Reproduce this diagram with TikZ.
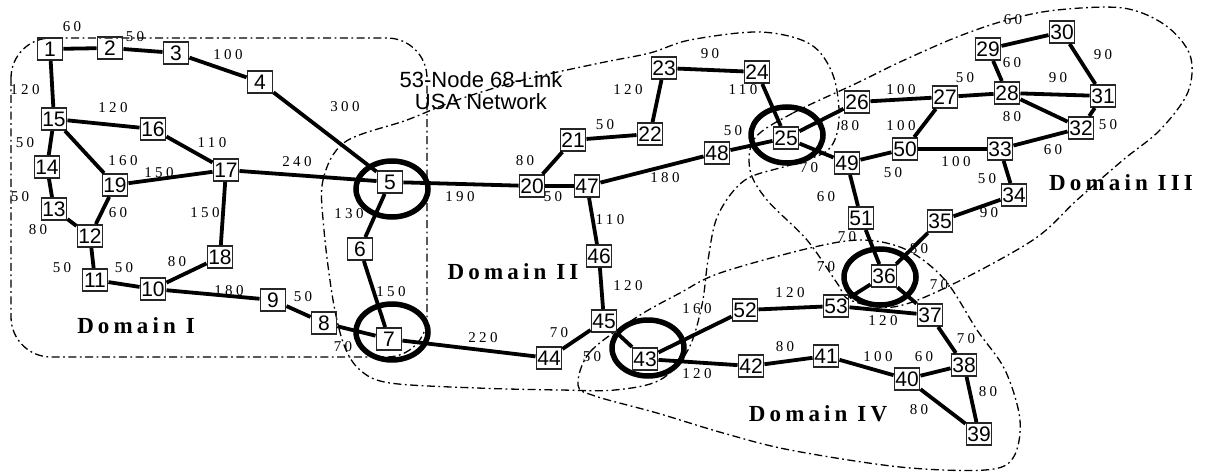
\documentclass[tikz,border=0pt]{standalone}
\usepackage{fontspec}
\setmainfont{Liberation Serif}
\newfontfamily\nodefont{Liberation Sans}
\newfontfamily\labfont[LetterSpace=22]{Liberation Serif}
\newfontfamily\domfont[LetterSpace=18]{Liberation Serif}
\usetikzlibrary{shapes.geometric}
\begin{document}
\begin{tikzpicture}[x=1pt,y=-1pt,
  nd/.style={draw=black!85, line width=1.9pt, minimum width=25pt, minimum height=22pt, inner sep=0pt, font=\nodefont\fontsize{21}{21}\selectfont},
  ln/.style={line width=3.8pt},
  wl/.style={font=\labfont\fontsize{15}{15}\selectfont, inner sep=0pt},
  bord/.style={ellipse, draw, line width=5.5pt, minimum width=72pt, minimum height=56pt, inner sep=0pt},
  dom/.style={line width=1.3pt, dash pattern=on 8pt off 3.5pt on 1.8pt off 3.5pt},
  dlab/.style={font=\domfont\bfseries\fontsize{23}{23}\selectfont, inner sep=0pt},
  ttl/.style={align=center, font=\nodefont\fontsize{22}{22}\selectfont, inner sep=0pt}]
\useasboundingbox (0,0) rectangle (1207,476);

% domain boundaries
\draw[dom, rounded corners=40pt] (11,38) rectangle (427,357);
\draw[dom] plot[smooth cycle, tension=0.55] coordinates {(345,142) (407,120) (457,100) (523,80) (600,63) (650,53) (690,40) (760,32) (810,44) (833,75) (839,120) (828,150) (790,165) (745,180) (718,215) (708,260) (702,305) (688,350) (660,380) (615,390) (560,390) (477,388) (390,383) (360,370) (344,345) (333,300) (324,230) (323,180)};
\draw[dom] plot[smooth cycle, tension=0.55] coordinates {(755,138) (793,113) (857,83) (900,62) (957,37) (1007,20) (1057,10) (1123,8) (1165,25) (1190,55) (1188,92) (1160,130) (1123,160) (1077,200) (1033,240) (947,287) (893,307) (850,300) (837,283) (807,240) (767,200) (750,170)};
\draw[dom] plot[smooth cycle, tension=0.55] coordinates {(578,385) (590,352) (637,317) (680,293) (720,273) (810,248) (863,240) (907,250) (945,280) (977,330) (1005,370) (1020,420) (1013,458) (985,470) (900,467) (790,450) (723,433) (657,413) (595,396)};

% border-node ellipses
\node[bord] (e5) at (392,189) {};
\node[bord] (e7) at (392,332) {};
\node[bord] (e25) at (787,135) {};
\node[bord] (e36) at (880,277) {};
\node[bord] (e43) at (648,348) {};

% nodes
\node[nd] (n1) at (50,49) {1};
\node[nd] (n2) at (110,48) {2};
\node[nd] (n3) at (176,53) {3};
\node[nd] (n4) at (260,82) {4};
\node[nd] (n5) at (390,182) {5};
\node[nd] (n6) at (360,249) {6};
\node[nd] (n7) at (389,339) {7};
\node[nd] (n8) at (324,323) {8};
\node[nd] (n9) at (273,300) {9};
\node[nd] (n10) at (153,289) {10};
\node[nd] (n11) at (95,280) {11};
\node[nd] (n12) at (90,236) {12};
\node[nd] (n13) at (54,209) {13};
\node[nd] (n14) at (47,167) {14};
\node[nd] (n15) at (54,119) {15};
\node[nd] (n16) at (153,129) {16};
\node[nd] (n17) at (226,170) {17};
\node[nd] (n18) at (220,257) {18};
\node[nd] (n19) at (115,185) {19};
\node[nd] (n20) at (532,186) {20};
\node[nd] (n21) at (573,140) {21};
\node[nd] (n22) at (650,134) {22};
\node[nd] (n23) at (664,68) {23};
\node[nd] (n24) at (757,72) {24};
\node[nd] (n25) at (786,138) {25};
\node[nd] (n26) at (857,102) {26};
\node[nd] (n27) at (945,97) {27};
\node[nd] (n28) at (1007,93) {28};
\node[nd] (n29) at (988,49) {29};
\node[nd] (n30) at (1062,32) {30};
\node[nd] (n31) at (1103,96) {31};
\node[nd] (n32) at (1081,128) {32};
\node[nd] (n33) at (1000,149) {33};
\node[nd] (n34) at (1014,195) {34};
\node[nd] (n35) at (940,221) {35};
\node[nd] (n36) at (884,276) {36};
\node[nd] (n37) at (930,315) {37};
\node[nd] (n38) at (964,365) {38};
\node[nd] (n39) at (979,434) {39};
\node[nd] (n40) at (907,379) {40};
\node[nd] (n41) at (826,356) {41};
\node[nd] (n42) at (751,366) {42};
\node[nd] (n43) at (645,359) {43};
\node[nd] (n44) at (549,358) {44};
\node[nd] (n45) at (604,321) {45};
\node[nd] (n46) at (599,256) {46};
\node[nd] (n47) at (587,186) {47};
\node[nd] (n48) at (717,153) {48};
\node[nd] (n49) at (847,163) {49};
\node[nd] (n50) at (905,149) {50};
\node[nd] (n51) at (861,218) {51};
\node[nd] (n52) at (745,310) {52};
\node[nd] (n53) at (836,306) {53};

% links
\foreach \a/\b in {1/2,2/3,3/4,4/5,1/15,15/16,16/17,15/14,15/19,19/17,17/5,14/13,19/12,17/18,13/12,12/11,11/10,10/18,10/9,9/8,8/7,5/6,6/7,5/20,20/21,20/47,21/22,22/23,23/24,24/25,48/25,47/48,47/46,46/45,45/44,44/7,45/43,43/52,43/42,52/53,53/37,53/36,51/36,35/36,36/37,49/51,25/49,25/26,26/27,27/50,49/50,50/33,27/28,29/28,29/30,30/31,28/31,28/32,31/32,33/32,33/34,34/35,37/38,38/40,38/39,40/39,41/40,42/41}
  \draw[ln] (n\a) -- (n\b);

% link weights
\node[wl] (w1) at (72,27) {60};
\node[wl] (w2) at (135,37) {50};
\node[wl] (w3) at (228,55) {100};
\node[wl] (w4) at (345,107) {300};
\node[wl] (w5) at (25,90) {120};
\node[wl] (w6) at (113,108) {120};
\node[wl] (w7) at (212,143) {110};
\node[wl] (w8) at (25,143) {50};
\node[wl] (w9) at (123,161) {160};
\node[wl] (w10) at (159,173) {150};
\node[wl] (w11) at (297,162) {240};
\node[wl] (w12) at (20,197) {50};
\node[wl] (w13) at (118,213) {60};
\node[wl] (w14) at (205,213) {150};
\node[wl] (w15) at (38,230) {80};
\node[wl] (w16) at (62,268) {50};
\node[wl] (w17) at (124,268) {50};
\node[wl] (w18) at (177,262) {80};
\node[wl] (w19) at (229,291) {180};
\node[wl] (w20) at (303,297) {50};
\node[wl] (w21) at (343,347) {70};
\node[wl] (w22) at (349,214) {130};
\node[wl] (w23) at (391,292) {150};
\node[wl] (w24) at (460,197) {190};
\node[wl] (w25) at (525,161) {80};
\node[wl] (w26) at (553,197) {50};
\node[wl] (w27) at (605,125) {50};
\node[wl] (w28) at (628,90) {120};
\node[wl] (w29) at (710,54) {90};
\node[wl] (w30) at (743,90) {110};
\node[wl] (w31) at (733,131) {50};
\node[wl] (w32) at (665,178) {180};
\node[wl] (w33) at (610,220) {110};
\node[wl] (w34) at (628,286) {120};
\node[wl] (w35) at (559,333) {70};
\node[wl] (w36) at (483,338) {220};
\node[wl] (w37) at (592,357) {50};
\node[wl] (w38) at (697,309) {160};
\node[wl] (w39) at (697,374) {120};
\node[wl] (w40) at (790,293) {120};
\node[wl] (w41) at (883,321) {120};
\node[wl] (w42) at (826,267) {70};
\node[wl] (w43) at (847,237) {70};
\node[wl] (w44) at (919,249) {80};
\node[wl] (w45) at (939,285) {70};
\node[wl] (w46) at (826,197) {60};
\node[wl] (w47) at (809,168) {70};
\node[wl] (w48) at (850,126) {80};
\node[wl] (w49) at (901,90) {100};
\node[wl] (w50) at (901,126) {100};
\node[wl] (w51) at (893,173) {50};
\node[wl] (w52) at (956,162) {100};
\node[wl] (w53) at (965,78) {50};
\node[wl] (w54) at (1012,63) {60};
\node[wl] (w55) at (1013,20) {60};
\node[wl] (w56) at (1103,55) {90};
\node[wl] (w57) at (1058,78) {90};
\node[wl] (w58) at (1012,117) {80};
\node[wl] (w59) at (1108,125) {50};
\node[wl] (w60) at (1053,150) {60};
\node[wl] (w61) at (987,179) {50};
\node[wl] (w62) at (989,213) {90};
\node[wl] (w63) at (966,339) {70};
\node[wl] (w64) at (924,357) {60};
\node[wl] (w65) at (988,392) {80};
\node[wl] (w66) at (919,410) {80};
\node[wl] (w67) at (878,357) {100};
\node[wl] (w68) at (785,347) {80};

% titles
\node[ttl] (title) at (481,91) {53-Node 68-Link\\USA Network};
\node[dlab] (dI) at (136,326) {Domain I};
\node[dlab] (dII) at (513,272) {Domain II};
\node[dlab] (dIII) at (1121,183) {Domain III};
\node[dlab] (dIV) at (818,414) {Domain IV};
\end{tikzpicture}
\end{document}
